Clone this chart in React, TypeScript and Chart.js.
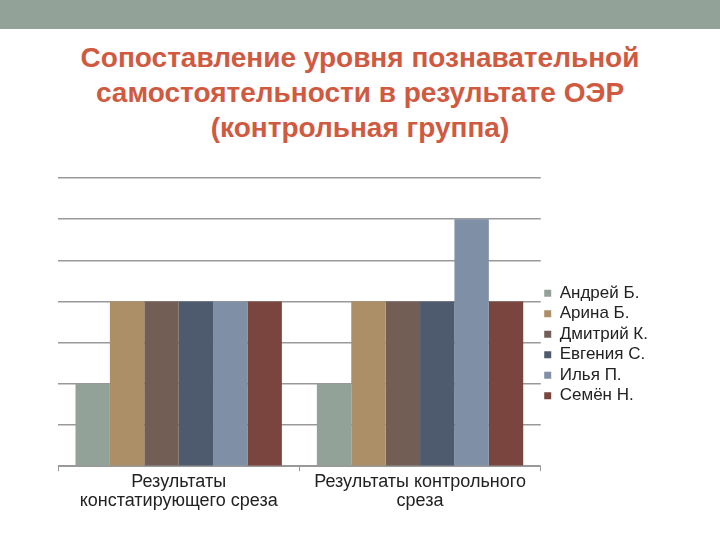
import React, { useEffect, useRef } from "react";
import { Chart, registerables } from "chart.js";

Chart.register(...registerables);

const categories: string[][] = [
  ["Результаты", "констатирующего среза"],
  ["Результаты контрольного", "среза"],
];
const seriesNames = ["Андрей Б.", "Арина Б.", "Дмитрий К.", "Евгения С.", "Илья П.", "Семён Н."];
const andrey = [2, 2];
const arina = [4, 4];
const dmitry = [4, 4];
const evgenia = [4, 4];
const ilya = [4, 6];
const semen = [4, 4];
const colors = ["#93A299", "#AD8F67", "#725E55", "#4E5B6F", "#7F8FA6", "#7A443F"];
const yMax = 7;

export default function App() {
  const ref = useRef<HTMLCanvasElement>(null);
  useEffect(() => {
    if (!ref.current) return;
    const values = [andrey, arina, dmitry, evgenia, ilya, semen];
    const chart = new Chart(ref.current, {
      type: "bar",
      data: {
        labels: categories,
        datasets: seriesNames.map((n, i) => ({
          label: n,
          data: values[i],
          backgroundColor: colors[i],
          borderWidth: 0,
          barPercentage: 1,
          categoryPercentage: 0.855,
        })),
      },
      options: {
        animation: false,
        responsive: false,
        layout: { padding: { top: 8, left: 58, right: 62, bottom: 19 } },
        plugins: {
          tooltip: { enabled: false },
          legend: {
            position: "right",
            align: "center",
            labels: {
              boxWidth: 7,
              boxHeight: 7,
              padding: 3.5,
              color: "#222",
              font: { family: "Liberation Sans", size: 17 },
            },
          },
        },
        scales: {
          x: {
            grid: { display: true, drawOnChartArea: false, offset: true, tickLength: 5, color: "#999" },
            border: { display: true, color: "#999" },
            ticks: { color: "#222", padding: 1, font: { family: "Liberation Sans", size: 18, lineHeight: 1.05 }, maxRotation: 0 },
          },
          y: {
            min: 0,
            max: yMax,
            ticks: { display: false, stepSize: 1 },
            grid: { color: "#999", lineWidth: 1.5, drawTicks: false },
            border: { display: false },
          },
        },
      },
    });
    return () => chart.destroy();
  }, []);
  return (
    <div style={{ position: "fixed", left: 0, top: 0, width: 720, height: 540, background: "#fff", overflow: "hidden" }}>
      <div style={{ position: "absolute", left: 0, top: 0, width: 720, height: 29, background: "#93A299" }} />
      <div
        style={{
          position: "absolute",
          left: 0,
          top: 40,
          width: 720,
          textAlign: "center",
          color: "#D05A40",
          fontFamily: "Liberation Sans",
          fontWeight: "bold",
          fontSize: 28,
          lineHeight: "35px",
        }}
      >
        Сопоставление уровня познавательной
        <br />
        самостоятельности в результате ОЭР
        <br />
        (контрольная группа)
      </div>
      <canvas ref={ref} width={720} height={360} style={{ position: "absolute", left: 0, top: 170 }} />
    </div>
  );
}
